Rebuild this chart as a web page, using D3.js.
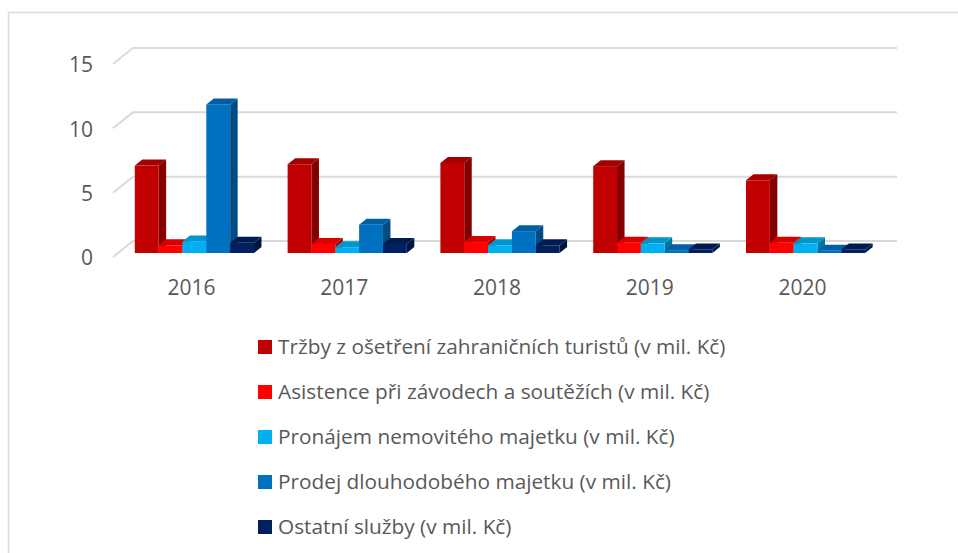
<!DOCTYPE html>
<html>
<head>
<meta charset="utf-8">
<script src="https://cdn.jsdelivr.net/npm/d3@7"></script>
<style>
  body { margin: 0; background: #fff; }
  text { font-family: "Open Sans", sans-serif; fill: #595959; }
</style>
</head>
<body>
<div id="canvas"></div>
<script>
// -------------------------------------------- Data
const years = ["2016", "2017", "2018", "2019", "2020"];
const seriesNames = [
  "Tržby z ošetření zahraničních turistů (v mil. Kč)",
  "Asistence při závodech a soutěžích (v mil. Kč)",
  "Pronájem nemovitého majetku (v mil. Kč)",
  "Prodej dlouhodobého majetku (v mil. Kč)",
  "Ostatní služby (v mil. Kč)"
];
const trzby = [6.8, 6.9, 7.0, 6.75, 5.65];
const asistence = [0.6, 0.7, 0.85, 0.8, 0.8];
const pronajem = [0.9, 0.45, 0.6, 0.75, 0.75];
const prodej = [11.55, 2.2, 1.7, 0.22, 0.18];
const ostatni = [0.8, 0.7, 0.6, 0.28, 0.28];
const yTicks = [0, 5, 10, 15];
const colors = ["#C00000", "#FF0000", "#00B0F0", "#0070C0", "#002060"];

const seriesValues = [trzby, asistence, pronajem, prodej, ostatni];

// -------------------------------------------- Dimensiones
const width = 958;
const height = 553;
const depth = { dx: 20, dy: -16 };     // profundidad del suelo
const barFront = 0.25, barBack = 0.625; // posición de las barras en la profundidad

const svg = d3.select("#canvas").append("svg")
  .attr("width", width)
  .attr("height", height);

// ----- Marco
svg.append("rect")
  .attr("x", 8.5).attr("y", 12.5)
  .attr("width", 1000).attr("height", 600)
  .attr("fill", "none")
  .attr("stroke", "#d9d9d9")
  .attr("stroke-width", 1.5);

// ----- Escalas (plano frontal)
const x = d3.scaleBand()
  .domain(years)
  .range([113, 877])
  .paddingInner(0.22)
  .paddingOuter(0.11);

const xs = d3.scaleBand()
  .domain(d3.range(seriesNames.length))
  .range([0, x.bandwidth()]);

const y = d3.scaleLinear().domain([0, 15]).range([257, 64]);

// ----- Rejilla
const grid = svg.append("g");
yTicks.forEach((t) => {
  const yf = y(t);
  grid.append("path")
    .attr("d", `M113,${yf}L${113 + depth.dx},${yf + depth.dy}L${877 + depth.dx},${yf + depth.dy}`)
    .attr("fill", "none")
    .attr("stroke", "#d9d9d9")
    .attr("stroke-width", 2);
});

// ----- Eje Y
const yAxis = svg.append("g")
  .attr("transform", "translate(93,1)")
  .call(d3.axisLeft(y).tickValues(yTicks).tickSize(0).tickPadding(0));
yAxis.select(".domain").remove();
yAxis.selectAll("text")
  .style("font-size", "21px")
  .style("font-family", "Open Sans")
  .attr("fill", "#595959");

// ----- Eje X
const xAxis = svg.append("g")
  .attr("transform", "translate(2,280)")
  .call(d3.axisBottom(x).tickSize(0).tickPadding(0));
xAxis.select(".domain").remove();
xAxis.selectAll("text")
  .style("font-size", "21px")
  .style("font-family", "Open Sans")
  .attr("fill", "#595959");

// ----- Barras 3D
const ox = barFront * depth.dx, oy = barFront * depth.dy;
const bdx = (barBack - barFront) * depth.dx, bdy = (barBack - barFront) * depth.dy;

const bars = svg.append("g");
years.forEach((yr, i) => {
  seriesValues.forEach((vals, s) => {
    const v = vals[i];
    const x0 = x(yr) + xs(s) + ox;
    const x1 = x0 + xs.bandwidth();
    const yb = y(0) + oy;
    const yt = y(v) + oy;
    const c = d3.color(colors[s]);
    const g = bars.append("g");
    // lado
    g.append("path")
      .attr("d", `M${x1},${yb}L${x1 + bdx},${yb + bdy}L${x1 + bdx},${yt + bdy}L${x1},${yt}Z`)
      .attr("fill", c.darker(1.1));
    // arriba
    g.append("path")
      .attr("d", `M${x0},${yt}L${x1},${yt}L${x1 + bdx},${yt + bdy}L${x0 + bdx},${yt + bdy}Z`)
      .attr("fill", c.darker(0.45));
    // frente
    g.append("rect")
      .attr("x", x0).attr("y", yt)
      .attr("width", x1 - x0).attr("height", yb - yt)
      .attr("fill", c);
  });
});

// ----- Leyenda
const legend = svg.append("g");
seriesNames.forEach((name, s) => {
  const cy = 347 + s * 45;
  legend.append("rect")
    .attr("x", 258).attr("y", cy - 7)
    .attr("width", 14).attr("height", 14)
    .attr("fill", colors[s]);
  legend.append("text")
    .attr("x", 278).attr("y", cy)
    .attr("dy", "0.35em")
    .style("font-size", "20.8px")
    .text(name);
});
</script>
</body>
</html>
